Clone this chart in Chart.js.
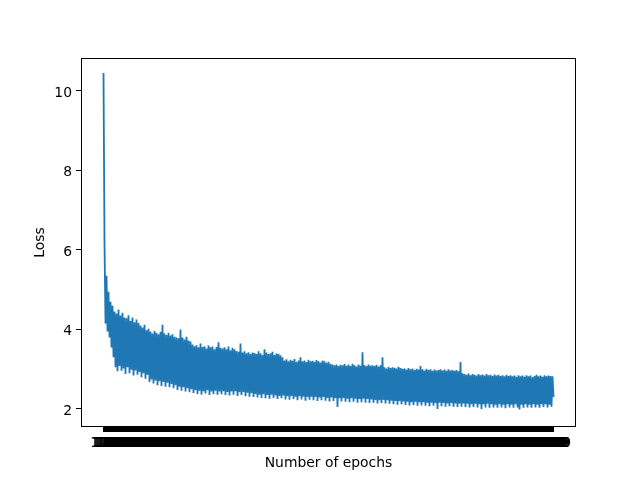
<!DOCTYPE html>
<html>
<head>
<meta charset="utf-8">
<script src="https://cdn.jsdelivr.net/npm/chart.js@4/dist/chart.umd.min.js"></script>
<style>
html,body{margin:0;padding:0;background:#fff;}
canvas{display:block;}
</style>
</head>
<body>
<canvas id="c" width="640" height="480"></canvas>
<script>
// Loss values (one per plotted step)
const lossValues = [
10.45, 6.2, 4.15, 5.35, 3.95, 4.95, 3.8, 4.7, 3.55, 4.6,
3.3, 4.45, 3.05, 4.4, 2.95, 4.5, 3.08, 4.35, 2.96, 4.42,
3.02, 4.3, 2.88, 4.28, 3.05, 4.36, 2.9, 4.22, 2.99, 4.3,
2.84, 4.18, 2.97, 4.25, 2.86, 4.16, 2.93, 4.1, 2.8, 4.05,
2.9, 4.12, 2.76, 3.98, 2.86, 4.02, 2.68, 3.95, 2.74, 3.9,
2.64, 3.96, 2.72, 3.92, 2.6, 3.88, 2.7, 3.94, 2.58, 4.12,
2.68, 3.9, 2.56, 3.86, 2.66, 3.92, 2.55, 3.85, 2.63, 3.88,
2.52, 3.82, 2.6, 3.8, 2.48, 3.78, 2.56, 4.0, 2.46, 3.8,
2.55, 3.75, 2.44, 3.82, 2.52, 3.72, 2.42, 3.7, 2.5, 3.62,
2.4, 3.58, 2.47, 3.6, 2.38, 3.55, 2.46, 3.65, 2.36, 3.56,
2.45, 3.58, 2.39, 3.52, 2.47, 3.6, 2.35, 3.55, 2.44, 3.57,
2.38, 3.5, 2.46, 3.56, 2.36, 3.68, 2.44, 3.54, 2.37, 3.52,
2.45, 3.55, 2.35, 3.5, 2.43, 3.57, 2.34, 3.48, 2.44, 3.54,
2.36, 3.5, 2.45, 3.46, 2.33, 3.44, 2.42, 3.65, 2.35, 3.42,
2.43, 3.45, 2.32, 3.4, 2.41, 3.43, 2.31, 3.38, 2.4, 3.42,
2.3, 3.41, 2.38, 3.38, 2.29, 3.45, 2.36, 3.4, 2.28, 3.36,
2.37, 3.5, 2.27, 3.42, 2.35, 3.38, 2.26, 3.4, 2.36, 3.44,
2.28, 3.36, 2.34, 3.4, 2.25, 3.38, 2.33, 3.35, 2.27, 3.3,
2.34, 3.22, 2.24, 3.25, 2.32, 3.2, 2.23, 3.24, 2.33, 3.21,
2.25, 3.26, 2.31, 3.18, 2.22, 3.22, 2.32, 3.3, 2.24, 3.2,
2.31, 3.22, 2.21, 3.18, 2.3, 3.24, 2.23, 3.2, 2.31, 3.21,
2.22, 3.19, 2.3, 3.23, 2.2, 3.2, 2.29, 3.17, 2.22, 3.22,
2.3, 3.2, 2.21, 3.16, 2.28, 3.19, 2.19, 3.14, 2.29, 3.12,
2.2, 3.1, 2.28, 3.12, 2.05, 3.08, 2.27, 3.11, 2.19, 3.1,
2.28, 3.13, 2.18, 3.09, 2.26, 3.12, 2.17, 3.08, 2.27, 3.14,
2.18, 3.1, 2.26, 3.07, 2.16, 3.12, 2.25, 3.09, 2.17, 3.43,
2.26, 3.1, 2.16, 3.08, 2.25, 3.12, 2.15, 3.09, 2.24, 3.1,
2.16, 3.08, 2.23, 3.11, 2.14, 3.07, 2.22, 3.1, 2.15, 3.3,
2.23, 3.05, 2.14, 3.02, 2.22, 3.06, 2.13, 3.03, 2.21, 3.05,
2.12, 3.04, 2.2, 3.02, 2.11, 3.06, 2.2, 3.03, 2.12, 3.01,
2.19, 3.02, 2.1, 2.99, 2.18, 3.03, 2.09, 3.0, 2.17, 3.02,
2.1, 2.98, 2.18, 3.01, 2.08, 2.99, 2.17, 3.08, 2.09, 3.0,
2.17, 2.97, 2.08, 3.01, 2.16, 2.98, 2.07, 3.0, 2.16, 2.96,
2.08, 2.99, 2.15, 2.97, 2.0, 2.98, 2.16, 3.0, 2.07, 2.97,
2.15, 2.99, 2.06, 2.96, 2.14, 3.0, 2.07, 2.97, 2.15, 2.98,
2.06, 2.96, 2.14, 2.98, 2.05, 2.95, 2.13, 3.18, 2.06, 2.9,
2.14, 2.88, 2.05, 2.86, 2.13, 2.89, 2.04, 2.85, 2.12, 2.88,
2.05, 2.86, 2.13, 2.84, 2.04, 2.88, 2.12, 2.85, 2.0, 2.87,
2.12, 2.84, 2.04, 2.88, 2.13, 2.85, 2.03, 2.86, 2.12, 2.83,
2.04, 2.87, 2.11, 2.84, 2.03, 2.86, 2.12, 2.83, 2.04, 2.85,
2.11, 2.82, 2.02, 2.86, 2.12, 2.83, 2.04, 2.85, 2.11, 2.82,
2.03, 2.84, 2.12, 2.81, 2.04, 2.85, 1.99, 2.82, 2.11, 2.84,
2.03, 2.81, 2.12, 2.85, 2.04, 2.82, 2.11, 2.84, 2.03, 2.8,
2.12, 2.83, 2.04, 2.86, 2.11, 2.82, 2.03, 2.84, 2.12, 2.81,
2.05, 2.85, 2.12, 2.82, 2.04, 2.84, 2.11, 2.83, 2.06, 2.82,
2.3
];
// Category labels: one per training step
const epochLabels = lossValues.map((_, i) => String(100 + i * 10));
const yTickValues = [2, 4, 6, 8, 10];
const xTitle = 'Number of epochs';
const yTitle = 'Loss';

const FONT = 'DejaVu Sans';
const n = lossValues.length;

const framePlugin = {
  id: 'frame',
  afterDraw(chart) {
    const {ctx, chartArea: a} = chart;
    ctx.save();
    ctx.strokeStyle = '#000';
    ctx.lineWidth = 1;
    ctx.strokeRect(Math.round(a.left) + 0.5, Math.round(a.top) + 0.5,
      Math.round(a.right - a.left) - 1, Math.round(a.bottom - a.top) - 1);
    ctx.restore();
  }
};

new Chart(document.getElementById('c'), {
  type: 'line',
  data: {
    datasets: [{
      data: lossValues.map((v, i) => ({x: i, y: v})),
      borderColor: '#1f77b4',
      borderWidth: 1.8,
      pointRadius: 0,
      tension: 0,
      fill: false
    }]
  },
  options: {
    responsive: false,
    animation: false,
    events: [],
    layout: {padding: {top: 58, right: 64, left: 0, bottom: 0}},
    plugins: {legend: {display: false}, tooltip: {enabled: false}},
    scales: {
      x: {
        type: 'linear',
        min: -0.05 * (n - 1),
        max: 1.05 * (n - 1),
        afterFit(s) { s.height = 53; },
        afterBuildTicks(s) { s.ticks = epochLabels.map((_, i) => ({value: i})); },
        border: {display: false},
        grid: {drawOnChartArea: false, drawTicks: true, tickLength: 5, color: '#000', lineWidth: 1},
        ticks: {
          autoSkip: false, maxRotation: 0, minRotation: 0, padding: 3,
          color: '#000', font: {family: FONT, size: 13.9},
          callback: (v, i) => epochLabels[i]
        },
        title: {display: true, text: xTitle, color: '#000', font: {family: FONT, size: 13.9}, padding: {top: 0, bottom: 8}}
      },
      y: {
        type: 'linear',
        min: 1.547,
        max: 10.83,
        afterFit(s) { s.width = 81; },
        afterBuildTicks(s) { s.ticks = yTickValues.map(v => ({value: v})); },
        border: {display: false},
        grid: {drawOnChartArea: false, drawTicks: true, tickLength: 5, color: '#000', lineWidth: 1},
        ticks: {
          padding: 4, labelOffset: 2, color: '#000', font: {family: FONT, size: 13.9},
          callback: v => String(v)
        },
        title: {display: true, text: yTitle, color: '#000', font: {family: FONT, size: 13.9}, padding: {top: 32, bottom: 0}}
      }
    }
  },
  plugins: [framePlugin]
});
</script>
</body>
</html>
